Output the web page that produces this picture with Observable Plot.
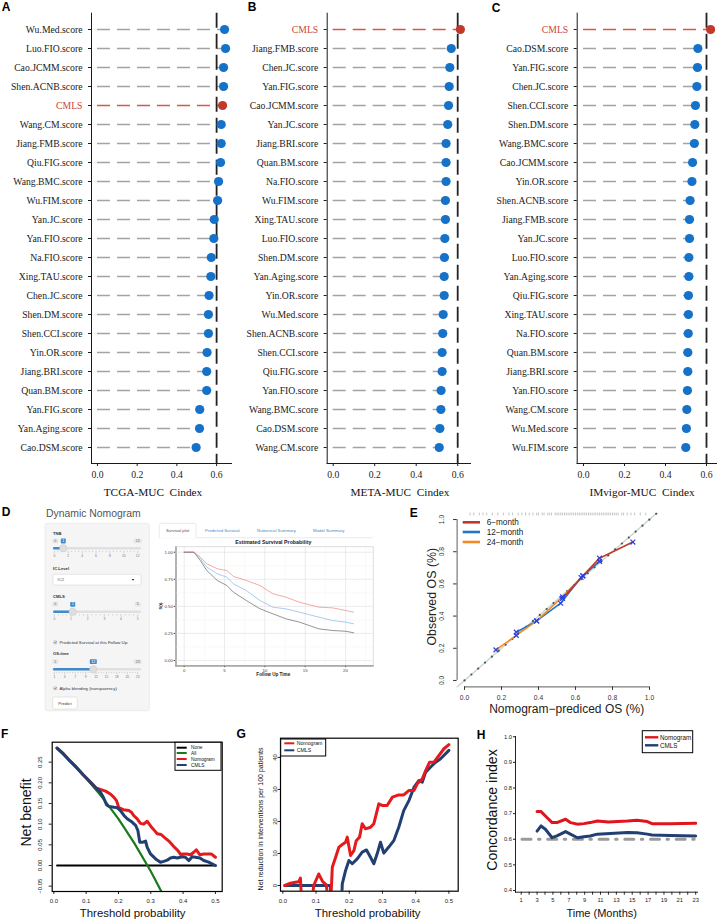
<!DOCTYPE html>
<html><head><meta charset="utf-8">
<script src="https://cdn.jsdelivr.net/npm/d3@7"></script>
<script src="https://cdn.jsdelivr.net/npm/@observablehq/plot@0.6"></script>
<style>
body{margin:0;background:#fff;}
#root{position:relative;width:718px;height:921px;overflow:hidden;background:#fff;}
</style></head><body><div id="root"></div>
<script>
// ---------------- DATA ----------------
const namesA = ["Wu.Med.score","Luo.FIO.score","Cao.JCMM.score","Shen.ACNB.score","CMLS","Wang.CM.score","Jiang.FMB.score","Qiu.FIG.score","Wang.BMC.score","Wu.FIM.score","Yan.JC.score","Yan.FIO.score","Na.FIO.score","Xing.TAU.score","Chen.JC.score","Shen.DM.score","Shen.CCI.score","Yin.OR.score","Jiang.BRI.score","Quan.BM.score","Yan.FIG.score","Yan.Aging.score","Cao.DSM.score"];
const cindexA = [0.640,0.645,0.635,0.635,0.630,0.623,0.623,0.620,0.610,0.605,0.588,0.586,0.573,0.571,0.562,0.559,0.559,0.552,0.550,0.550,0.515,0.514,0.497];
const namesB = ["CMLS","Jiang.FMB.score","Chen.JC.score","Yan.FIG.score","Cao.JCMM.score","Yan.JC.score","Jiang.BRI.score","Quan.BM.score","Na.FIO.score","Wu.FIM.score","Xing.TAU.score","Luo.FIO.score","Shen.DM.score","Yan.Aging.score","Yin.OR.score","Wu.Med.score","Shen.ACNB.score","Shen.CCI.score","Qiu.FIG.score","Yan.FIO.score","Wang.BMC.score","Cao.DSM.score","Wang.CM.score"];
const cindexB = [0.613,0.569,0.562,0.559,0.556,0.552,0.544,0.544,0.544,0.541,0.541,0.538,0.536,0.535,0.535,0.530,0.528,0.525,0.525,0.520,0.519,0.514,0.511];
const namesC = ["CMLS","Cao.DSM.score","Yan.FIG.score","Chen.JC.score","Shen.CCI.score","Shen.DM.score","Wang.BMC.score","Cao.JCMM.score","Yin.OR.score","Shen.ACNB.score","Jiang.FMB.score","Yan.JC.score","Luo.FIO.score","Yan.Aging.score","Qiu.FIG.score","Xing.TAU.score","Na.FIO.score","Quan.BM.score","Jiang.BRI.score","Yan.FIO.score","Wang.CM.score","Wu.Med.score","Wu.FIM.score"];
const cindexC = [0.620,0.558,0.556,0.553,0.546,0.543,0.541,0.532,0.529,0.520,0.517,0.517,0.514,0.514,0.512,0.512,0.511,0.509,0.509,0.507,0.504,0.502,0.499];
const cindexTicks = [0, 0.2, 0.4, 0.6];
const cutoffLine = [0.6];

// D: dynamic nomogram survival curves
const kmTime  = [0,1.2,2.0,2.8,4.1,5.3,6.1,7.7,9.4,11,12.6,14.3,16.7,18.4,20,21];
const kmRed   = [1,1,0.954,0.893,0.847,0.831,0.776,0.739,0.692,0.616,0.585,0.538,0.492,0.486,0.462,0.446];
const kmBlue  = [1,1,0.939,0.862,0.800,0.769,0.708,0.646,0.554,0.492,0.477,0.446,0.400,0.369,0.354,0.339];
const kmBlack = [1,1,0.923,0.831,0.739,0.692,0.631,0.554,0.477,0.431,0.385,0.354,0.292,0.277,0.270,0.256];
const kmXTicks = [0,5,10,15,20];
const kmXMinor = [2.5,7.5,12.5,17.5,22.5];
const kmYTicks = [0,0.25,0.5,0.75,1];
const kmYMinor = [0.125,0.375,0.625,0.875];
const tnbGrid = ["0","2","4","6","8","10","12"];
const cmlsGrid = ["0","1","2","3","4","5"];
const osGrid = ["1","4","7","9","12","15","18","20","23"];

// E: calibration
const calTicks = [0,0.2,0.4,0.6,0.8,1.0];
const cal6  = [[0.53,0.51],[0.64,0.65],[0.73,0.76],[0.91,0.86]];
const cal12 = [[0.28,0.30],[0.39,0.37],[0.52,0.48],[0.63,0.64],[0.73,0.74]];
const cal24 = [[0.17,0.19],[0.28,0.28],[0.39,0.37],[0.53,0.52],[0.64,0.65]];
const diagRef = [-0.04, 1.04];
const diagDots = [0,0.037,0.074,0.111,0.148,0.185,0.222,0.259,0.296,0.333,0.37,0.407,0.444,0.481,0.518,0.555,0.592,0.629,0.666,0.703,0.74,0.777,0.814,0.851,0.888,0.925,0.962,0.999,1.036];
const rugE = [0.03,0.05,0.08,0.10,0.12,0.15,0.18,0.21,0.24,0.26,0.29,0.31,0.33,0.35,0.37,0.39,0.40,0.42,0.43,0.45,0.46,0.47,0.49,0.50,0.51,0.52,0.53,0.54,0.55,0.56,0.57,0.58,0.59,0.60,0.61,0.62,0.63,0.64,0.65,0.66,0.67,0.68,0.69,0.70,0.71,0.72,0.73,0.74,0.75,0.76,0.77,0.78,0.79,0.80,0.81,0.82,0.83,0.85,0.86,0.88,0.90,0.92,0.95,0.98];

// F: decision curve
const thrTicks = [0,0.1,0.2,0.3,0.4,0.5];
const nbTicks = [-0.05,0,0.05,0.10,0.15,0.20,0.25];
const noneF = [[0.01,0],[0.5,0]];
const allF = [[0.01,0.283],[0.05,0.253],[0.1,0.211],[0.15,0.165],[0.2,0.113],[0.25,0.053],[0.3,-0.014],[0.332,-0.062]];
const nomF = [[0.01,0.284],[0.03,0.27],[0.05,0.253],[0.07,0.238],[0.09,0.22],[0.11,0.205],[0.13,0.188],[0.144,0.184],[0.16,0.180],[0.175,0.173],[0.186,0.165],[0.194,0.157],[0.201,0.140],[0.215,0.135],[0.232,0.133],[0.240,0.129],[0.247,0.121],[0.258,0.113],[0.268,0.102],[0.278,0.100],[0.289,0.107],[0.301,0.094],[0.311,0.085],[0.320,0.077],[0.332,0.075],[0.342,0.068],[0.356,0.059],[0.371,0.046],[0.384,0.036],[0.392,0.027],[0.402,0.028],[0.412,0.028],[0.423,0.026],[0.433,0.032],[0.441,0.038],[0.452,0.026],[0.464,0.028],[0.474,0.028],[0.487,0.028],[0.5,0.020]];
const cmlsF = [[0.01,0.284],[0.03,0.27],[0.05,0.253],[0.07,0.237],[0.09,0.22],[0.11,0.204],[0.13,0.188],[0.144,0.178],[0.155,0.162],[0.163,0.147],[0.170,0.143],[0.186,0.141],[0.196,0.140],[0.206,0.133],[0.217,0.121],[0.227,0.113],[0.242,0.105],[0.253,0.097],[0.260,0.085],[0.266,0.056],[0.273,0.056],[0.284,0.059],[0.289,0.044],[0.299,0.028],[0.315,0.016],[0.330,0.008],[0.340,0.010],[0.351,0.013],[0.361,0.018],[0.371,0.020],[0.382,0.018],[0.397,0.021],[0.407,0.020],[0.418,0.012],[0.428,0.021],[0.438,0.020],[0.452,0.018],[0.464,0.012],[0.479,0.008],[0.5,0.0]];

// G: net reduction in interventions
const nrTicks = [0,10,20,30,40];
const nomG = [[0.006,0],[0.023,0.7],[0.038,1.0],[0.048,1.2],[0.053,2.3],[0.058,-8],[0.085,-8],[0.093,0],[0.108,3.6],[0.120,1.2],[0.131,0.2],[0.139,-8],[0.143,-8],[0.149,5.7],[0.159,8.8],[0.169,12],[0.179,12.8],[0.189,13.5],[0.194,15.1],[0.204,9.4],[0.214,10.9],[0.221,14],[0.231,15.1],[0.239,19.3],[0.249,17.7],[0.264,18.2],[0.274,19.3],[0.289,25.5],[0.299,25],[0.314,25],[0.330,27.6],[0.349,28.3],[0.364,28.3],[0.380,29.7],[0.395,29.7],[0.405,31.8],[0.420,33.3],[0.430,35.9],[0.442,38.5],[0.455,38.5],[0.470,40.6],[0.485,42.7],[0.500,44]];
const cmlsG = [[0.006,0],[0.143,0],[0.147,-8],[0.176,-8],[0.179,0.5],[0.189,4.7],[0.199,7.8],[0.209,6.8],[0.224,8.3],[0.239,10.4],[0.252,11.1],[0.264,8.8],[0.274,6.8],[0.284,9.9],[0.294,13.5],[0.304,10.1],[0.319,12],[0.334,14],[0.349,18.2],[0.364,23.4],[0.380,26.6],[0.395,30.7],[0.410,32.8],[0.420,32.3],[0.430,35.4],[0.445,37],[0.460,38.5],[0.475,39.6],[0.500,42.2]];

// H: time-dependent C-index
const monthTicks = [1,2,3,4,5,6,7,8,9,10,11,12,13,14,15,16,17,18,19,20,21,22,23];
const ciTicks = [0.4,0.5,0.6,0.7,0.8,0.9,1.0];
const nomH = [[3,0.708],[3.5,0.708],[4.05,0.691],[4.9,0.665],[5.5,0.665],[6.6,0.678],[7.2,0.665],[8.1,0.659],[8.9,0.661],[9.7,0.665],[10.6,0.671],[12,0.667],[14.4,0.671],[15.6,0.674],[16.9,0.669],[17.5,0.661],[19.8,0.661],[23,0.662]];
const cmlsH = [[3,0.632],[3.5,0.652],[4.05,0.639],[4.9,0.606],[5.5,0.613],[6.6,0.630],[7.2,0.620],[8.1,0.606],[8.9,0.610],[9.7,0.613],[10.6,0.620],[14.4,0.626],[15.6,0.625],[16.9,0.620],[17.5,0.617],[19.8,0.615],[23,0.613]];
const refH = [[1.1,0.6],[23,0.6]];

// ---------------- HELPERS ----------------
const SERIF = "'Liberation Serif','Times New Roman',serif";
const SANS = "'Liberation Sans',Arial,Helvetica,sans-serif";
const root = document.getElementById("root");

function plotAt(box, svgBox, opts) {
  const [L,T,R,B] = box, [sx,sy,w,h] = svgBox;
  const el = Plot.plot({
    width: w, height: h,
    marginLeft: L - sx, marginRight: sx + w - R, marginTop: T - sy, marginBottom: sy + h - B,
    ...opts,
    style: {background: "transparent", overflow: "visible", ...(opts.style || {})}
  });
  el.style.position = "absolute"; el.style.left = sx + "px"; el.style.top = sy + "px";
  root.appendChild(el);
  return el;
}

// ---------------- A, B, C lollipops ----------------
function lollipop(names, vals, box, svgBox, xDom) {
  const rows = names.map((name, i) => ({name, v: vals[i]}));
  const others = rows.filter(d => d.name !== "CMLS");
  const ours = rows.filter(d => d.name === "CMLS");
  const el = plotAt(box, svgBox, {
    style: {fontFamily: SERIF, fontSize: "9.7px", color: "#1a1a1a"},
    x: {domain: xDom, ticks: cindexTicks, tickFormat: d3.format(".1f"), tickSize: 3, tickPadding: 5, line: true, label: null},
    y: {domain: names, type: "point", padding: 0.6, tickSize: 3, tickPadding: 6, line: true, label: null},
    marks: [
      Plot.ruleY(others, {y: "name", x1: 0, x2: "v", stroke: "#a3a3a3", strokeWidth: 1.3, strokeDasharray: "13,7"}),
      Plot.ruleY(ours, {y: "name", x1: 0, x2: "v", stroke: "#d25a48", strokeWidth: 1.3, strokeDasharray: "13,7"}),
      Plot.ruleX(cutoffLine, {stroke: "#222", strokeWidth: 1.8, strokeDasharray: "15,6"}),
      Plot.dot(others, {x: "v", y: "name", r: 4.6, fill: "#1672c9"}),
      Plot.dot(ours, {x: "v", y: "name", r: 4.6, fill: "#c0392b"})
    ]
  });
  el.querySelectorAll("text").forEach(t => { if (t.textContent === "CMLS") t.setAttribute("fill", "#cc4433"); });
}
lollipop(namesA, cindexA, [91, 12.7, 231, 463], [0, 0, 238, 500], [-0.030, 0.675]);
lollipop(namesB, cindexB, [326.7, 12.7, 470, 463], [240, 0, 238, 500], [-0.0289, 0.6617]);
lollipop(namesC, cindexC, [576.7, 12.7, 716, 463], [478, 0, 240, 500], [-0.0307, 0.6488]);

// ---------------- D: survival plot ----------------
plotAt([175.5, 546.3, 372.7, 665.4], [140, 540, 240, 140], {
  style: {fontFamily: SANS, fontSize: "4.4px", color: "#444"},
  x: {domain: [-1.017, 23.43], ticks: kmXTicks, tickSize: 1.8, tickPadding: 0.8, line: true, label: null},
  y: {domain: [-0.05, 1.05], ticks: kmYTicks, tickFormat: d3.format(".2f"), tickSize: 1.8, tickPadding: 1.2, line: true, label: null},
  marks: [
    Plot.ruleX(kmXMinor, {stroke: "#f2f2f2", strokeWidth: 0.5}),
    Plot.ruleY(kmYMinor, {stroke: "#f2f2f2", strokeWidth: 0.5}),
    Plot.ruleX(kmXTicks, {stroke: "#e3e3e3", strokeWidth: 0.7}),
    Plot.ruleY(kmYTicks, {stroke: "#e3e3e3", strokeWidth: 0.7}),
    Plot.frame({stroke: "#cfcfcf", strokeWidth: 0.7}),
    Plot.line(kmTime.map((t, i) => [t, kmBlack[i]]), {stroke: "#333", strokeOpacity: 0.75, strokeWidth: 0.7}),
    Plot.line(kmTime.map((t, i) => [t, kmBlue[i]]), {stroke: "#5d9de0", strokeOpacity: 0.75, strokeWidth: 0.7}),
    Plot.line(kmTime.map((t, i) => [t, kmRed[i]]), {stroke: "#ee5a5a", strokeOpacity: 0.75, strokeWidth: 0.7})
  ]
});

// ---------------- E: calibration ----------------
const xDomE = [-0.04, 1.04], yDomE = [-0.04, 1.04];
plotAt([456.6, 512.6, 656.4, 686.4], [400, 500, 265, 205], {
  style: {fontFamily: SANS, fontSize: "6.7px", color: "#333"},
  x: {domain: xDomE, ticks: calTicks, tickFormat: d3.format(".1f"), tickSize: 3.5, tickPadding: 4.5, label: null},
  y: {domain: yDomE, ticks: calTicks, tickFormat: () => "", tickSize: 3.5, label: null},
  marks: [
    Plot.ruleY([yDomE[0]], {x1: calTicks[0], x2: calTicks[calTicks.length - 1], stroke: "#333", strokeWidth: 0.8}),
    Plot.ruleX([xDomE[0]], {y1: calTicks[0], y2: calTicks[calTicks.length - 1], stroke: "#333", strokeWidth: 0.8}),
    Plot.text(calTicks, {x: xDomE[0], y: d => d, text: d3.format(".1f"), rotate: -90, dx: -15, fontSize: 6.7, fill: "#333"}),
    Plot.ruleX(rugE, {x: d => d, y1: yDomE[1], y2: yDomE[1] - 0.017, stroke: "#9a9a9a", strokeWidth: 0.6}),
    Plot.line(diagRef.map(v => [v, v]), {stroke: "#cfcfcf", strokeWidth: 1.3}),
    Plot.dot(diagDots, {x: d => d, y: d => d, r: 1.1, fill: "#2f5a55"}),
    Plot.line(cal12, {stroke: "#1f78c1", strokeWidth: 1.6}),
    Plot.line(cal24, {stroke: "#f08a24", strokeWidth: 1.6}),
    Plot.line(cal6, {stroke: "#c0392b", strokeWidth: 1.6}),
    Plot.dot([...cal6, ...cal12, ...cal24], {x: d => d[0], y: d => d[1], symbol: "times", r: 2.3, stroke: "#2a3fe0", strokeWidth: 1.2})
  ]
});

// ---------------- F: decision curve ----------------
const xDomF = [-0.005, 0.521];
plotAt([51.7, 741.7, 221.7, 891], [0, 725, 235, 190], {
  style: {fontFamily: SANS, fontSize: "6px", color: "#222"},
  x: {domain: xDomF, ticks: thrTicks, tickFormat: d3.format(".1f"), tickSize: 3, tickPadding: 4.5, label: null},
  y: {domain: [-0.0629, 0.2983], ticks: nbTicks, tickFormat: () => "", tickSize: 3, label: null},
  marks: [
    Plot.text(nbTicks, {x: xDomF[0], y: d => d, text: d3.format(".2f"), rotate: -90, dx: -11.7, fontSize: 6, fill: "#222"}),
    Plot.line(noneF, {stroke: "#000", strokeWidth: 2}),
    Plot.line(allF, {stroke: "#1b7a1b", strokeWidth: 2.2, clip: true}),
    Plot.line(nomF, {stroke: "#e41a1c", strokeWidth: 3}),
    Plot.line(cmlsF, {stroke: "#223f72", strokeWidth: 3}),
    Plot.frame({stroke: "#000", strokeWidth: 1.2})
  ]
});

// ---------------- G: net reduction ----------------
const xDomG = [-0.007, 0.528];
plotAt([280, 737.7, 457.7, 890.7], [235, 725, 235, 190], {
  style: {fontFamily: SANS, fontSize: "6px", color: "#222"},
  x: {domain: xDomG, ticks: thrTicks, tickFormat: d3.format(".1f"), tickSize: 3, tickPadding: 4.5, label: null},
  y: {domain: [-1.78, 46], ticks: nrTicks, tickFormat: () => "", tickSize: 2.5, label: null},
  marks: [
    Plot.text(nrTicks, {x: xDomG[0], y: d => d, text: d => String(d), rotate: -90, dx: -5.5, fontSize: 6, fill: "#222"}),
    Plot.line(cmlsG, {stroke: "#223f72", strokeWidth: 3, clip: true}),
    Plot.line(nomG, {stroke: "#e41a1c", strokeWidth: 3, clip: true}),
    Plot.frame({stroke: "#000", strokeWidth: 1.2})
  ]
});

// ---------------- H: C-index over time ----------------
plotAt([515, 736, 697, 891.7], [470, 725, 248, 190], {
  style: {fontFamily: SANS, fontSize: "5.8px", color: "#222"},
  x: {domain: [0.28, 23.23], ticks: monthTicks, tickFormat: d => (d % 2 ? String(d) : ""), tickSize: 3, tickPadding: 2.5, line: true, label: null},
  y: {domain: [0.3934, 1.001], ticks: ciTicks, tickFormat: d3.format(".1f"), tickSize: 2, tickPadding: 1.5, line: true, label: null},
  marks: [
    Plot.line(refH, {stroke: "#9a9a9a", strokeWidth: 3, strokeDasharray: "9,7.5,1.5,7.7"}),
    Plot.line(cmlsH, {stroke: "#223f72", strokeWidth: 3}),
    Plot.line(nomH, {stroke: "#e0141e", strokeWidth: 3})
  ]
});

// ---------------- Overlay: titles, legends, UI ----------------
const ov = d3.create("svg").attr("width", 718).attr("height", 921)
  .style("position", "absolute").style("left", "0px").style("top", "0px").style("overflow", "visible");
function t(s, x, y, o = {}) {
  const e = ov.append("text").attr("x", x).attr("y", y)
    .attr("text-anchor", o.anchor || "middle").attr("dominant-baseline", "central")
    .attr("font-family", o.family || SANS).attr("font-size", o.size || 10)
    .attr("font-weight", o.weight || "normal").attr("fill", o.color || "#222")
    .style("white-space", "pre").text(s);
  if (o.rotate) e.attr("transform", `rotate(${o.rotate},${x},${y})`);
  return e;
}
function rect(x, y, w, h, o = {}) {
  return ov.append("rect").attr("x", x).attr("y", y).attr("width", w).attr("height", h)
    .attr("rx", o.rx || 0).attr("fill", o.fill || "none").attr("stroke", o.stroke || "none").attr("stroke-width", o.sw || 1);
}
function seg(x1, y1, x2, y2, color, sw) {
  ov.append("line").attr("x1", x1).attr("y1", y1).attr("x2", x2).attr("y2", y2).attr("stroke", color).attr("stroke-width", sw);
}

// panel letters
[["A", 6.2, 7.2], ["B", 252.2, 7.2], ["C", 496, 8], ["D", 6, 512.2], ["E", 413.7, 513], ["F", 4.7, 734.2], ["G", 241.2, 734.2], ["H", 481, 734.5]]
  .forEach(([s, x, y]) => t(s, x, y, {size: 12, weight: "bold", color: "#000"}));

// A-C titles
t("TCGA-MUC  Cindex", 153, 491.7, {family: SERIF, size: 11.3, color: "#111"});
t("META-MUC  Cindex", 400, 491.7, {family: SERIF, size: 11.3, color: "#111"});
t("IMvigor-MUC  Cindex", 642, 491.7, {family: SERIF, size: 11.3, color: "#111"});

// D: Shiny UI
t("Dynamic Nomogram", 46, 513.3, {anchor: "start", size: 10.4, color: "#555"});
rect(45, 523.3, 104.3, 187.4, {rx: 2, fill: "#f5f5f5", stroke: "#e3e3e3", sw: 0.6});
function slider(lblY, trackY, minL, maxL, val, vx, grid) {
  const x0 = 53, x1 = 141, g0 = 54.3, g1 = 137.7;
  rect(g0 - 2, lblY - 2.2, 4 + minL.length * 2, 4.4, {rx: 0.8, fill: "#e6e6e6"});
  t(minL, g0 - 2 + (4 + minL.length * 2) / 2, lblY, {size: 3.6, color: "#666"});
  rect(g1 - 2 - maxL.length, lblY - 2.2, 4 + maxL.length * 2, 4.4, {rx: 0.8, fill: "#e6e6e6"});
  t(maxL, g1, lblY, {size: 3.6, color: "#666"});
  rect(vx - 1.5 - val.length, lblY - 2.4, 3 + val.length * 2, 4.8, {rx: 0.8, fill: "#428bca"});
  t(val, vx, lblY, {size: 3.8, color: "#fff"});
  rect(x0, trackY - 1.2, x1 - x0, 2.4, {rx: 1.2, fill: "#e0e0e0"});
  rect(x0, trackY - 1.2, vx - x0, 2.4, {rx: 1.2, fill: "#428bca"});
  const n = (grid.length - 1) * 4;
  for (let i = 0; i <= n; i++) {
    const x = g0 + (g1 - g0) * i / n;
    seg(x, trackY + 2.6, x, trackY + (i % 4 === 0 ? 5 : 3.8), "#888", 0.35);
  }
  grid.forEach((s, i) => t(s, g0 + (g1 - g0) * i / (grid.length - 1), trackY + 7.3, {size: 3.3, color: "#777"}));
  ov.append("circle").attr("cx", vx).attr("cy", trackY).attr("r", 3.7).attr("fill", "#dedede").attr("stroke", "#c4c4c4").attr("stroke-width", 0.4);
}
function checkbox(y, label) {
  rect(53.8, y - 1.4, 2.8, 2.8, {rx: 0.4, fill: "#fff", stroke: "#777", sw: 0.4});
  ov.append("path").attr("d", `M54.4,${y} L55.1,${y + 0.8} L56.2,${y - 0.9}`).attr("fill", "none").attr("stroke", "#333").attr("stroke-width", 0.5);
  t(label, 59.5, y, {anchor: "start", size: 4.3, color: "#333"});
}
t("TNB", 53, 533.3, {anchor: "start", size: 4.2, weight: "bold", color: "#333"});
slider(541, 548.3, "0", "12", "1", 63.3, tnbGrid);
t("IC.Level", 53, 568.3, {anchor: "start", size: 4.2, weight: "bold", color: "#333"});
rect(53, 574.3, 88, 10.7, {rx: 1.5, fill: "#fff", stroke: "#cfcfcf", sw: 0.5});
t("IC2", 57.5, 579.7, {anchor: "start", size: 4.2, color: "#555"});
ov.append("path").attr("d", "M131.6,579 L134.4,579 L133,580.7 Z").attr("fill", "#333");
t("CMLS", 53, 596, {anchor: "start", size: 4.2, weight: "bold", color: "#333"});
slider(604.3, 611.7, "0", "5", "1", 72.7, cmlsGrid);
checkbox(642.3, "Predicted Survival at this Follow Up:");
t("OS.time", 53, 653.3, {anchor: "start", size: 4.2, weight: "bold", color: "#333"});
slider(661.7, 669.3, "1", "23", "12", 93.3, osGrid);
checkbox(688.3, "Alpha blending (transparency)");
rect(52.7, 697, 24.6, 12, {rx: 1.5, fill: "#fff", stroke: "#cccccc", sw: 0.5});
t("Predict", 65, 703, {size: 4.3, color: "#333"});
// tabs
seg(159, 537.7, 372.7, 537.7, "#dddddd", 0.6);
rect(159.3, 523.3, 36.7, 14.8, {fill: "#fff"});
ov.append("path").attr("d", "M159.3,537.7 V524.5 Q159.3,523.3 160.5,523.3 H194.8 Q196,523.3 196,524.5 V537.7").attr("fill", "none").attr("stroke", "#dddddd").attr("stroke-width", 0.6);
t("Survival plot", 177.6, 530, {size: 4.3, color: "#555"});
t("Predicted Survival", 222.2, 530, {size: 4.3, color: "#428bca"});
t("Numerical Summary", 276.5, 530, {size: 4.3, color: "#428bca"});
t("Model Summary", 328.7, 530, {size: 4.3, color: "#428bca"});
t("Estimated Survival Probability", 273.3, 541.7, {size: 5.3, weight: "bold", color: "#222"});
t("Follow Up Time", 273.3, 674.3, {size: 4.6, weight: "bold", color: "#222"});
t("S(t)", 160.8, 606, {size: 4.2, weight: "bold", color: "#222", rotate: -90});

// E titles and legend
t("Observed OS (%)", 432, 596.7, {size: 12.4, color: "#222", rotate: -90});
t("Nomogram\u2212prediced OS (%)", 566.7, 709, {size: 12, color: "#222"});
[["6\u2212month", "#c0392b", 522.3], ["12\u2212month", "#1f78c1", 532], ["24\u2212month", "#f08a24", 542]].forEach(([s, c, y]) => {
  seg(462.7, y, 480, y, c, 2.6);
  t(s, 486.7, y, {anchor: "start", size: 8.2, color: "#222"});
});

// F titles and legend
t("Net benefit", 26, 812.5, {size: 14.1, color: "#111", rotate: -90});
t("Threshold probability", 132.7, 913.3, {size: 11.4, color: "#111"});
rect(175, 742.3, 46, 28, {fill: "#fff", stroke: "#000", sw: 1});
[["None", "#000", 747.7], ["All", "#1b7a1b", 753], ["Nomogram", "#e41a1c", 759], ["CMLS", "#223f72", 765]].forEach(([s, c, y]) => {
  seg(176.7, y, 186.7, y, c, 2);
  t(s, 191, y, {anchor: "start", size: 4.8, color: "#111"});
});

// G titles and legend
t("Net reduction in interventions per 100 patients", 260, 819, {size: 7, color: "#111", rotate: -90});
t("Threshold probability", 367.7, 913.3, {size: 11.4, color: "#111"});
rect(280.7, 739, 45, 17, {fill: "#fff", stroke: "#000", sw: 1});
[["Nomogram", "#e41a1c", 743.3], ["CMLS", "#223f72", 750.3]].forEach(([s, c, y]) => {
  seg(284.3, y, 294.3, y, c, 2);
  t(s, 296.7, y, {anchor: "start", size: 5.2, color: "#111"});
});

// H titles and legend
t("Concordance index", 491.7, 810, {size: 14.1, color: "#111", rotate: -90});
t("Time (Months)", 601.7, 913.3, {size: 11, color: "#111"});
rect(642.3, 730.7, 50.4, 22, {fill: "#fff", stroke: "#000", sw: 1});
[["Nomogram", "#e0141e", 737.3], ["CMLS", "#223f72", 745.3]].forEach(([s, c, y]) => {
  seg(645, y, 658.3, y, c, 2.4);
  t(s, 660, y, {anchor: "start", size: 6.3, color: "#111"});
});

root.appendChild(ov.node());
</script></body></html>
